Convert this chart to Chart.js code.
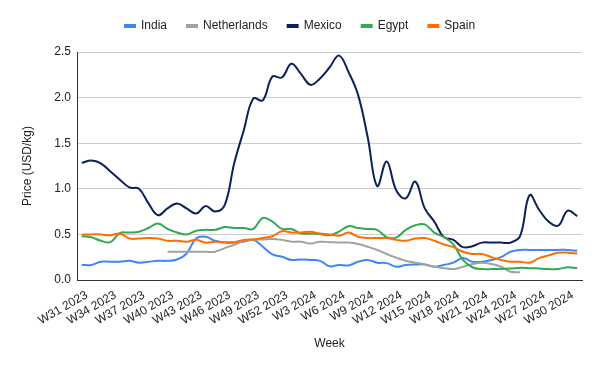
<!DOCTYPE html>
<html>
<head>
<meta charset="utf-8">
<script src="https://cdn.jsdelivr.net/npm/chart.js@4"></script>
<style>
  html, body { margin: 0; padding: 0; background: #fff; }
  #wrap { width: 600px; height: 371px; position: relative; }
</style>
</head>
<body>
<div id="wrap"><canvas id="priceChart"></canvas></div>
<script>
const weeks = [
  "W31 2023", "W32 2023", "W33 2023", "W34 2023", "W35 2023", "W36 2023", "W37 2023",
  "W38 2023", "W39 2023", "W40 2023", "W41 2023", "W42 2023", "W43 2023", "W44 2023",
  "W45 2023", "W46 2023", "W47 2023", "W48 2023", "W49 2023", "W50 2023", "W51 2023",
  "W52 2023", "W1 2024", "W2 2024", "W3 2024", "W4 2024", "W5 2024", "W6 2024",
  "W7 2024", "W8 2024", "W9 2024", "W10 2024", "W11 2024", "W12 2024", "W13 2024",
  "W14 2024", "W15 2024", "W16 2024", "W17 2024", "W18 2024", "W19 2024", "W20 2024",
  "W21 2024", "W22 2024", "W23 2024", "W24 2024", "W25 2024", "W26 2024", "W27 2024",
  "W28 2024", "W29 2024", "W30 2024", "W31 2024"
];

const india = [
  0.165, 0.165, 0.20, 0.20, 0.20, 0.21, 0.19, 0.20, 0.21, 0.21,
  0.225, 0.29, 0.455, 0.475, 0.43, 0.41, 0.41, 0.42, 0.44, 0.365,
  0.28, 0.255, 0.22, 0.225, 0.22, 0.21, 0.15, 0.165, 0.16, 0.20,
  0.22, 0.19, 0.185, 0.145, 0.165, 0.17, 0.17, 0.145, 0.165, 0.19,
  0.24, 0.20, 0.20, 0.22, 0.25, 0.31, 0.33, 0.33, 0.33, 0.33,
  0.33, 0.33, 0.32
];

const netherlands = [
  null, null, null, null, null, null, null, null, null, 0.31,
  0.31, 0.31, 0.31, 0.31, 0.31, 0.35, 0.385, 0.43, 0.44, 0.445,
  0.45, 0.44, 0.42, 0.42, 0.40, 0.42, 0.415, 0.41, 0.41, 0.395,
  0.365, 0.33, 0.285, 0.245, 0.21, 0.19, 0.17, 0.145, 0.13, 0.12,
  0.145, 0.175, 0.19, 0.175, 0.145, 0.09, 0.085, null, null, null,
  null, null, null
];

const mexico = [
  1.285, 1.31, 1.28, 1.19, 1.10, 1.015, 1.0, 0.84, 0.71, 0.785,
  0.84, 0.785, 0.73, 0.81, 0.75, 0.82, 1.28, 1.64, 1.99, 1.97,
  2.23, 2.22, 2.37, 2.26, 2.14, 2.21, 2.33, 2.46, 2.28, 2.03,
  1.57, 1.03, 1.30, 0.985, 0.895, 1.08, 0.785, 0.64, 0.47, 0.44,
  0.36, 0.37, 0.41, 0.41, 0.41, 0.41, 0.48, 0.93, 0.77, 0.64,
  0.595, 0.76, 0.70
];

const egypt = [
  0.48, 0.47, 0.43, 0.415, 0.515, 0.52, 0.53, 0.57, 0.62, 0.56,
  0.52, 0.50, 0.54, 0.55, 0.55, 0.58, 0.57, 0.57, 0.56, 0.68,
  0.64, 0.56, 0.56, 0.51, 0.51, 0.505, 0.49, 0.53, 0.59, 0.57,
  0.56, 0.55, 0.47, 0.465, 0.55, 0.60, 0.61, 0.52, 0.47, 0.39,
  0.22, 0.14, 0.12, 0.12, 0.12, 0.125, 0.135, 0.13, 0.125, 0.12,
  0.12, 0.14, 0.13
];

const spain = [
  0.50, 0.50, 0.50, 0.49, 0.51, 0.455, 0.455, 0.46, 0.455, 0.43,
  0.43, 0.42, 0.44, 0.41, 0.42, 0.415, 0.415, 0.44, 0.445, 0.46,
  0.48, 0.535, 0.52, 0.52, 0.53, 0.51, 0.50, 0.485, 0.52, 0.475,
  0.46, 0.46, 0.46, 0.44, 0.43, 0.455, 0.46, 0.43, 0.39, 0.36,
  0.31, 0.285, 0.285, 0.25, 0.22, 0.20, 0.20, 0.19, 0.24, 0.27,
  0.30, 0.30, 0.29
];

const yTicks = [0, 0.5, 1.0, 1.5, 2.0, 2.5];

const FONT = "'Liberation Sans', Arial, sans-serif";
Chart.defaults.font.family = FONT;
Chart.defaults.font.size = 12;
Chart.defaults.color = "#222";

function series(label, data, color, order) {
  return {
    label: label,
    data: data,
    borderColor: color,
    backgroundColor: color,
    borderWidth: 2,
    pointRadius: 0,
    pointHoverRadius: 0,
    tension: 0.4,
    fill: false,
    spanGaps: false,
    order: order,
  };
}

// a bit of extra room between legend and plot, and nudge legend to page centre
const legendTweak = {
  id: "legendTweak",
  beforeInit(chart) {
    const legend = chart.legend;
    const fit = legend.fit;
    legend.fit = function () {
      fit.call(this);
      this.height += 10;
    };
  },
  afterLayout(chart) {
    chart.legend.left += 9;
    chart.legend.right += 9;
  },
};

const ctx = document.getElementById("priceChart").getContext("2d");
new Chart(ctx, {
  type: "line",
  data: {
    labels: weeks,
    datasets: [
      series("India", india, "#4285f4", 4),
      series("Netherlands", netherlands, "#9aa69c", 3),
      series("Mexico", mexico, "#0c2159", 2),
      series("Egypt", egypt, "#34a853", 1),
      series("Spain", spain, "#ff6d01", 0),
    ],
  },
  plugins: [legendTweak],
  options: {
    responsive: true,
    maintainAspectRatio: false,
    animation: false,
    layout: {
      padding: { top: 0, right: 18, bottom: 0, left: 0 },
    },
    plugins: {
      legend: {
        position: "top",
        align: "center",
        labels: {
          boxWidth: 10,
          boxHeight: 2,
          padding: 20,
          color: "#222",
          font: { size: 12, family: FONT },
          sort: (a, b) => a.datasetIndex - b.datasetIndex,
        },
      },
      tooltip: { enabled: false },
    },
    scales: {
      x: {
        type: "category",
        offset: true,
        grid: { display: false },
        border: { display: true, color: "#333", width: 1 },
        ticks: {
          autoSkip: false,
          minRotation: 30,
          maxRotation: 30,
          padding: 0,
          labelOffset: 5,
          color: "#222",
          font: { size: 12, family: FONT },
          callback: function (value, index) {
            return index % 3 === 0 ? this.getLabelForValue(value) : null;
          },
        },
        title: {
          display: true,
          text: "Week",
          color: "#222",
          font: { size: 12, family: FONT },
          padding: { top: 0, bottom: 20 },
        },
        afterFit: (scale) => {
          scale.height = 91;
        },
      },
      y: {
        min: 0,
        max: 2.5,
        afterBuildTicks: (scale) => {
          scale.ticks = yTicks.map((v) => ({ value: v }));
        },
        grid: {
          color: (c) => (c.tick && c.tick.value === 0 ? "#333" : "#cccccc"),
          drawTicks: false,
        },
        border: { display: true, color: "#333", width: 1 },
        ticks: {
          padding: 6,
          color: "#222",
          font: { size: 12, family: FONT },
          callback: (v) => Number(v).toFixed(1),
        },
        title: {
          display: true,
          text: "Price (USD/kg)",
          color: "#222",
          font: { size: 12, family: FONT },
          padding: { top: 20, bottom: 0 },
        },
        afterFit: (scale) => {
          scale.width = 77;
        },
      },
    },
  },
});
</script>
</body>
</html>
